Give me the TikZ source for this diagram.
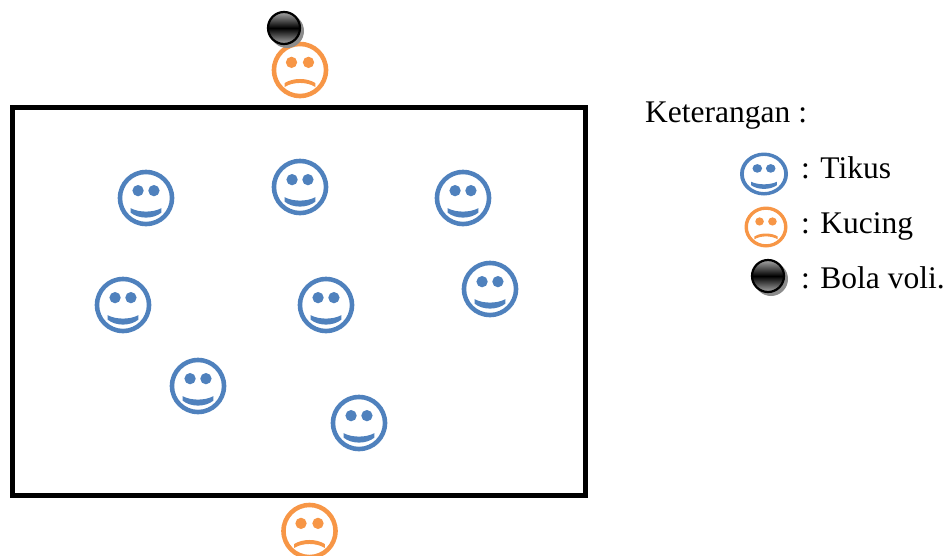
\documentclass[tikz,border=0pt]{standalone}
\usepackage{fontspec}
\setmainfont{Liberation Serif}
\definecolor{tikusblue}{HTML}{4F81BD}
\definecolor{kucingorange}{HTML}{F79646}

\tikzset{
  tikus/.pic={
    \fill[tikusblue,even odd rule] (0,0) circle (1) (0,0) circle (0.84);
    \fill[tikusblue] (-0.28,-0.26) circle (0.2) (0.28,-0.26) circle (0.2);
    \fill[tikusblue] (-0.54,0.36) .. controls (-0.25,0.52) and (0.25,0.52) .. (0.54,0.36)
      -- (0.54,0.52) .. controls (0.25,0.75) and (-0.25,0.75) .. (-0.54,0.52) -- cycle;
  },
  kucing/.pic={
    \fill[kucingorange,even odd rule] (0,0) circle (1) (0,0) circle (0.84);
    \fill[kucingorange] (-0.3,-0.27) circle (0.2) (0.3,-0.27) circle (0.2);
    \fill[kucingorange] (-0.54,0.6) .. controls (-0.25,0.41) and (0.25,0.41) .. (0.54,0.6)
      -- (0.54,0.46) .. controls (0.25,0.27) and (-0.25,0.27) .. (-0.54,0.46) -- cycle;
  },
  bola/.pic={
    \fill[black!45] (3,3) circle (17);
    \shadedraw[top color=black!35,bottom color=black!35,middle color=black,draw=black,line width=2.2pt] (0,0) circle (16);
  },
  keterangan/.style={font=\fontsize{31.5}{36}\selectfont,inner sep=0pt,anchor=base west},
}

\begin{document}
\begin{tikzpicture}[x=1pt,y=-1pt]
  \useasboundingbox (0,0) rectangle (950,555);
  \draw[line width=5pt] (12,107) rectangle (585.5,495);

  % tikus di dalam lapangan
  \pic[scale=28.3] (tikusa) at (146,198) {tikus};
  \pic[scale=28.3] (tikusb) at (300,187) {tikus};
  \pic[scale=28.3] (tikusc) at (463,198) {tikus};
  \pic[scale=28.3] (tikusd) at (123,305) {tikus};
  \pic[scale=28.3] (tikuse) at (326,305) {tikus};
  \pic[scale=28.3] (tikusf) at (490,289) {tikus};
  \pic[scale=28.3] (tikusg) at (198,386) {tikus};
  \pic[scale=28.3] (tikush) at (359,423) {tikus};

  % kucing dan bola
  \pic[scale=28.3] (kucinga) at (300,70) {kucing};
  \pic[scale=28.3] (kucingb) at (309.5,531) {kucing};
  \pic (bolaa) at (284,28) {bola};

  % keterangan
  \node[keterangan] (judul) at (645,122) {Keterangan :};
  \pic[xscale=24,yscale=21.5] (ikontikus) at (764,174) {tikus};
  \pic[xscale=21.5,yscale=20.5] (ikonkucing) at (766,227) {kucing};
  \pic (ikonbola) at (768,276) {bola};
  \node[keterangan] (teksa) at (801,178) {: Tikus};
  \node[keterangan] (teksb) at (801,233) {: Kucing};
  \node[keterangan] (teksc) at (801,288) {: Bola voli.};
\end{tikzpicture}
\end{document}
